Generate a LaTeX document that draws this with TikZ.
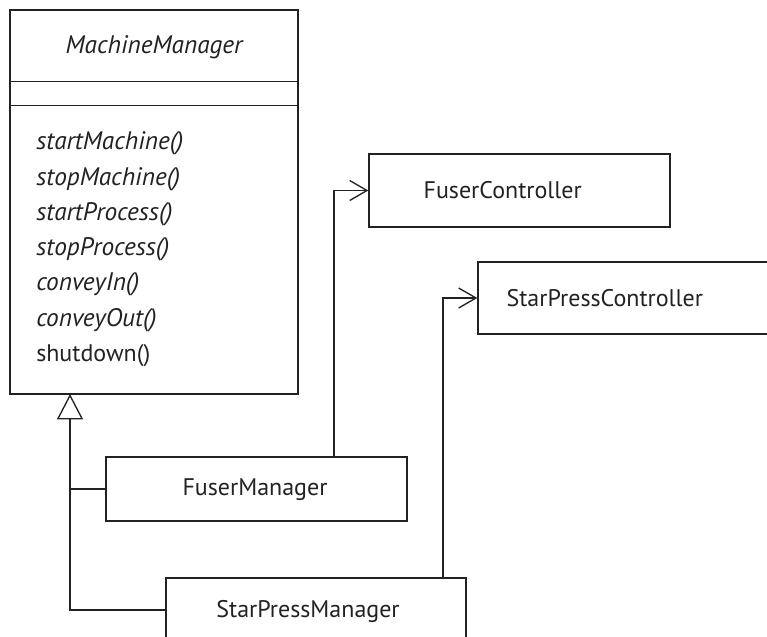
\documentclass[tikz,border=0pt]{standalone}
\usepackage{fontspec}
\setmainfont{PT Sans}
\usetikzlibrary{arrows.meta}
\definecolor{ink}{HTML}{222222}
\tikzset{
  box/.style={draw=ink, line width=1pt, rectangle, inner sep=0pt, fill=white},
  lbl/.style={inner sep=0pt, text=ink, font=\fontsize{18}{20}\selectfont},
  meth/.style={lbl, anchor=west, font=\fontsize{19}{21}\selectfont\itshape},
  conn/.style={draw=ink, line width=1pt},
  assoc/.style={conn, -{Straight Barb[length=13pt, width=15pt, line width=1pt]}},
  gen/.style={conn, -{Triangle[open, length=19pt, width=19.5pt, line width=1pt, fill=white]}}
}
\begin{document}
\begin{tikzpicture}[x=0.75pt, y=-0.75pt]
\clip (0,0) rectangle (767,636);
\fill[white] (0,0) rectangle (767,636);
% boxes
\node[box, minimum width=216pt, minimum height=288pt] (mm) at (154,202) {};
\node[box, minimum width=225.75pt, minimum height=54.75pt] (fc) at (519.5,190.5) {};
\node[box, minimum width=225.75pt, minimum height=54pt] (spc) at (628.5,298) {};
\node[box, minimum width=225.75pt, minimum height=48pt] (fm) at (256.5,489) {};
\node[box, minimum width=225pt, minimum height=48pt] (spm) at (316,610) {};
% compartments
\draw[conn] ([yshift=-54pt]mm.north west) -- ([yshift=-54pt]mm.north east);
\draw[conn] ([yshift=-72pt]mm.north west) -- ([yshift=-72pt]mm.north east);
% labels
\node[lbl, font=\fontsize{19}{21}\selectfont\itshape] (mmt) at (154,47) {MachineManager};
\node[meth] (m1) at (36,143) {startMachine()};
\node[meth] (m2) at (36,179) {stopMachine()};
\node[meth] (m3) at (36,214) {startProcess()};
\node[meth] (m4) at (36,249) {stopProcess()};
\node[meth] (m5) at (36,284) {conveyIn()};
\node[meth] (m6) at (36,320) {conveyOut()};
\node[lbl, anchor=west] (m7) at (36,356) {shutdown()};
\node[lbl, anchor=west] (fct) at ([xshift=41.25pt]fc.west) {FuserController};
\node[lbl, anchor=west] (spct) at ([xshift=21.75pt]spc.west) {StarPressController};
\node[lbl] (fmt) at (255,490) {FuserManager};
\node[lbl] (spmt) at (308,611) {StarPressManager};
% connectors
\coordinate (gtop) at (70,394);
\coordinate (fa) at (334,457);
\coordinate (sa) at (443,578);
\draw[gen] (spm.west) -| (gtop);
\draw[conn] (fm.west) -- (fm.west -| gtop);
\draw[assoc] (fa) |- (fc.west);
\draw[assoc] (sa) |- (spc.west);
\end{tikzpicture}
\end{document}
